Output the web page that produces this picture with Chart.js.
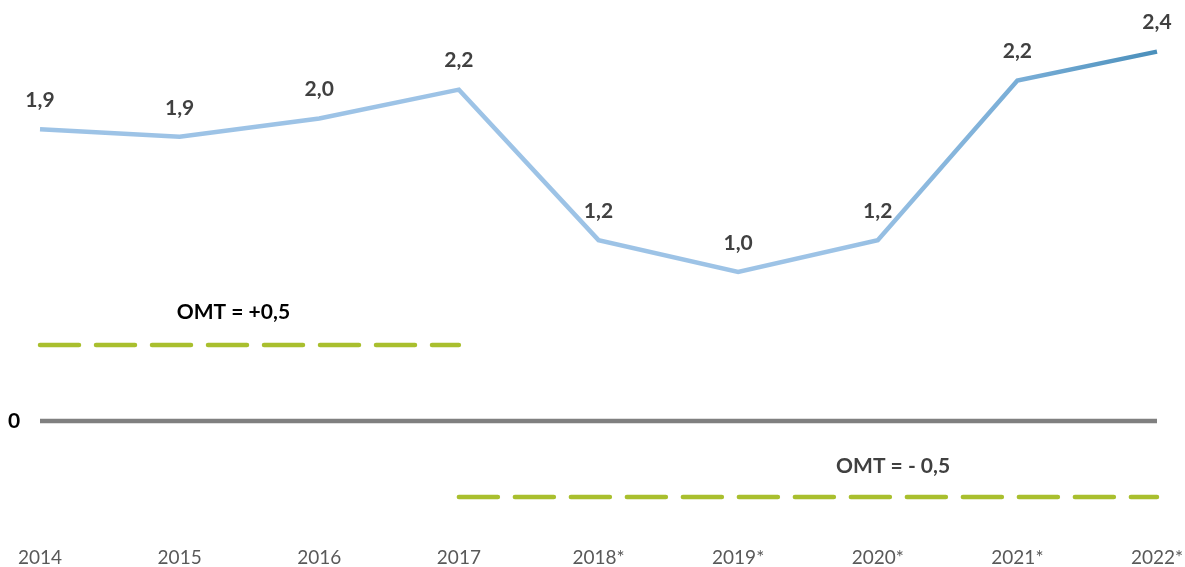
<!DOCTYPE html>
<html>
<head>
<meta charset="utf-8">
<script src="https://cdn.jsdelivr.net/npm/chart.js@4.4.0/dist/chart.umd.min.js"></script>
<style>
  html, body { margin: 0; padding: 0; background: #fff; }
  #wrap { width: 1185px; height: 567px; }
</style>
</head>
<body>
<div id="wrap"><canvas id="chart"></canvas></div>
<script>
const years = ['2014', '2015', '2016', '2017', '2018*', '2019*', '2020*', '2021*', '2022*'];
const growth = [1.92, 1.87, 1.99, 2.18, 1.19, 0.98, 1.19, 2.24, 2.43];
const omtUpper = [0.5, 0.5, 0.5, 0.5, null, null, null, null, null];
const omtLower = [null, null, null, -0.5, -0.5, -0.5, -0.5, -0.5, -0.5];
const zeroLine = [0, 0, 0, 0, 0, 0, 0, 0, 0];

const FONT = 'Lato, "Open Sans", sans-serif';

// value labels, OMT captions and the "0" mark
const annotate = {
  id: 'annotate',
  afterDatasetsDraw(chart) {
    const c = chart.ctx;
    const x = chart.scales.x, y = chart.scales.y;
    c.save();
    c.textAlign = 'center';
    c.textBaseline = 'middle';
    c.font = 'bold 21px ' + FONT;
    c.fillStyle = '#404040';
    chart.getDatasetMeta(0).data.forEach((pt, i) => {
      c.fillText(growth[i].toFixed(1).replace('.', ','), pt.x, pt.y - 29);
    });
    c.fillStyle = '#000';
    c.fillText('OMT = +0,5', (x.getPixelForValue(0) + x.getPixelForValue(3)) / 2 - 16, y.getPixelForValue(0.5) - 33);
    c.fillStyle = '#404040';
    c.fillText('OMT = - 0,5', x.getPixelForValue(6.11), y.getPixelForValue(-0.5) - 31);
    c.fillStyle = '#000';
    c.fillText('0', 14, y.getPixelForValue(0));
    c.restore();
  }
};

const ctx = document.getElementById('chart').getContext('2d');

const chart = new Chart(ctx, {
  type: 'line',
  data: {
    labels: years,
    datasets: [{
      label: 'Vekst',
      data: growth,
      borderColor: (context) => {
        const area = context.chart.chartArea;
        if (!area) return '#9dc3e6';
        const g = context.chart.ctx.createLinearGradient(area.left, 0, area.right, 0);
        g.addColorStop(0, '#9dc3e6');
        g.addColorStop(0.72, '#9dc3e6');
        g.addColorStop(0.88, '#78add6');
        g.addColorStop(1, '#4a8fbb');
        return g;
      },
      borderWidth: 4.5,
      pointRadius: 0,
      tension: 0,
      clip: false,
      order: 0
    }, {
      label: 'OMT +0,5',
      data: omtUpper,
      borderColor: '#a9bf2e',
      borderWidth: 4.5,
      borderDash: [39, 17],
      borderCapStyle: 'round',
      pointRadius: 0,
      spanGaps: false,
      clip: false,
      order: 1
    }, {
      label: 'OMT -0,5',
      data: omtLower,
      borderColor: '#a9bf2e',
      borderWidth: 4.5,
      borderDash: [39, 17],
      borderCapStyle: 'round',
      pointRadius: 0,
      spanGaps: false,
      clip: false,
      order: 1
    }, {
      label: 'Null',
      data: zeroLine,
      borderColor: '#808080',
      borderWidth: 4.5,
      pointRadius: 0,
      clip: false,
      order: 2
    }]
  },
  options: {
    responsive: true,
    maintainAspectRatio: false,
    animation: false,
    layout: { padding: { left: 40, right: 28, top: 10, bottom: 0 } },
    plugins: {
      legend: { display: false },
      tooltip: { enabled: false }
    },
    scales: {
      x: {
        offset: false,
        grid: { display: false, drawTicks: false },
        border: { display: false },
        afterFit: (axis) => {
          axis.height = 37;
          axis.paddingLeft = 0;
          axis.paddingRight = 0;
        },
        ticks: {
          color: '#595959',
          font: { family: FONT, size: 19 },
          padding: 16,
          maxRotation: 0,
          autoSkip: false
        }
      },
      y: {
        display: false,
        min: -0.717,
        max: 2.704
      }
    }
  },
  plugins: [annotate]
});
</script>
</body>
</html>
